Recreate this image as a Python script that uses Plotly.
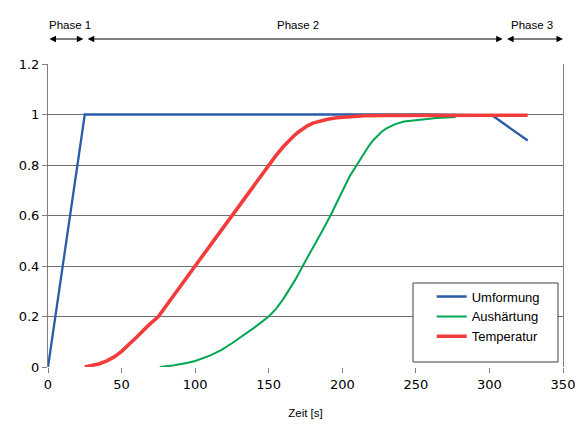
import plotly.graph_objects as go

# Data
t_umformung = [0, 25, 258, 302, 326]
umformung = [0, 1, 1, 0.996, 0.897]

t_aushaertung = [76, 85, 95, 100, 110, 118, 125, 133, 140, 150, 155, 160, 168, 175, 180, 186, 192, 199, 205, 212, 215, 218, 221, 224, 227, 230, 233, 236, 242, 250, 264, 277]
aushaertung = [0, 0.006, 0.017, 0.024, 0.045, 0.068, 0.094, 0.125, 0.155, 0.2, 0.23, 0.27, 0.345, 0.42, 0.47, 0.535, 0.6, 0.68, 0.755, 0.82, 0.85, 0.875, 0.898, 0.917, 0.933, 0.945, 0.955, 0.962, 0.972, 0.978, 0.986, 0.99]

t_temperatur = [25, 30, 35, 40, 45, 50, 55, 60, 67, 75, 100, 125, 150, 155, 160, 164, 167, 170, 173, 176, 180, 185, 190, 196, 205, 215, 230, 260, 300, 326]
temperatur = [0, 0.005, 0.013, 0.024, 0.04, 0.062, 0.088, 0.117, 0.158, 0.2, 0.4, 0.6, 0.8, 0.838, 0.873, 0.898, 0.915, 0.93, 0.943, 0.954, 0.966, 0.975, 0.981, 0.987, 0.992, 0.995, 0.996, 0.997, 0.997, 0.997]

phase_labels = ["Phase 1", "Phase 2", "Phase 3"]
phase_starts = [0, 26, 311]
phase_ends = [24, 309, 350]
phase_label_x = [15, 170, 329]

x_ticks = [0, 50, 100, 150, 200, 250, 300, 350]
y_ticks = [0, 0.2, 0.4, 0.6, 0.8, 1.0, 1.2]
y_tick_text = ["0", "0.2", "0.4", "0.6", "0.8", "1", "1.2"]

fig = go.Figure()
fig.add_trace(go.Scatter(x=t_umformung, y=umformung, mode="lines", name="Umformung",
                         line=dict(color="#2a5caa", width=2.3)))
fig.add_trace(go.Scatter(x=t_aushaertung, y=aushaertung, mode="lines", name="Aushärtung",
                         line=dict(color="#00a651", width=2)))
fig.add_trace(go.Scatter(x=t_temperatur, y=temperatur, mode="lines", name="Temperatur",
                         line=dict(color="#f23c3c", width=3.6)))

annotations = []
for lab, s, e, lx in zip(phase_labels, phase_starts, phase_ends, phase_label_x):
    annotations.append(dict(x=e, y=1.0825, xref="x", yref="paper", ax=s, ay=0,
                            axref="x", ayref="pixel", text="", showarrow=True,
                            arrowhead=2, startarrowhead=2, arrowside="end+start",
                            arrowsize=1.3, startarrowsize=1.3, arrowwidth=1, arrowcolor="#000000"))
    annotations.append(dict(x=lx, y=1.155, xref="x", yref="paper", text=lab, showarrow=False,
                            font=dict(family="Liberation Sans, Arial", size=11.5, color="#000000")))

fig.update_layout(
    width=579, height=428,
    margin=dict(l=48, r=16, t=64, b=61, autoexpand=False),
    paper_bgcolor="white", plot_bgcolor="white",
    showlegend=True,
    legend=dict(x=0.745, y=0.282, xanchor="left", yanchor="top",
                bgcolor="rgba(0,0,0,0)", borderwidth=0,
                font=dict(family="Liberation Sans, Arial", size=13, color="#000000")),
    annotations=annotations,
    shapes=[dict(type="rect", xref="paper", yref="paper",
                 x0=(413 - 48) / 515, x1=(558 - 48) / 515,
                 y0=(367 - 362) / 303, y1=(367 - 283) / 303,
                 line=dict(color="#404040", width=1), fillcolor="white", layer="above")],
    xaxis=dict(range=[0, 350], tickvals=x_ticks, showgrid=False, zeroline=False,
               ticks="outside", ticklen=5, tickcolor="#808080", showline=False,
               tickfont=dict(family="DejaVu Sans", size=13, color="#000000"),
               title=dict(text="Zeit [s]", font=dict(family="Liberation Sans, Arial", size=11.5, color="#000000"), standoff=18)),
    yaxis=dict(range=[0, 1.2], tickvals=y_ticks, ticktext=y_tick_text, showgrid=True,
               gridcolor="#707070", gridwidth=1, zeroline=False,
               showline=True, linecolor="#808080", mirror=True,
               ticks="outside", ticklen=5, tickcolor="#808080",
               tickfont=dict(family="DejaVu Sans", size=13, color="#000000")),
)

fig.write_html("out.html", config={"displayModeBar": False},
               post_script="document.body.style.margin='0';")
